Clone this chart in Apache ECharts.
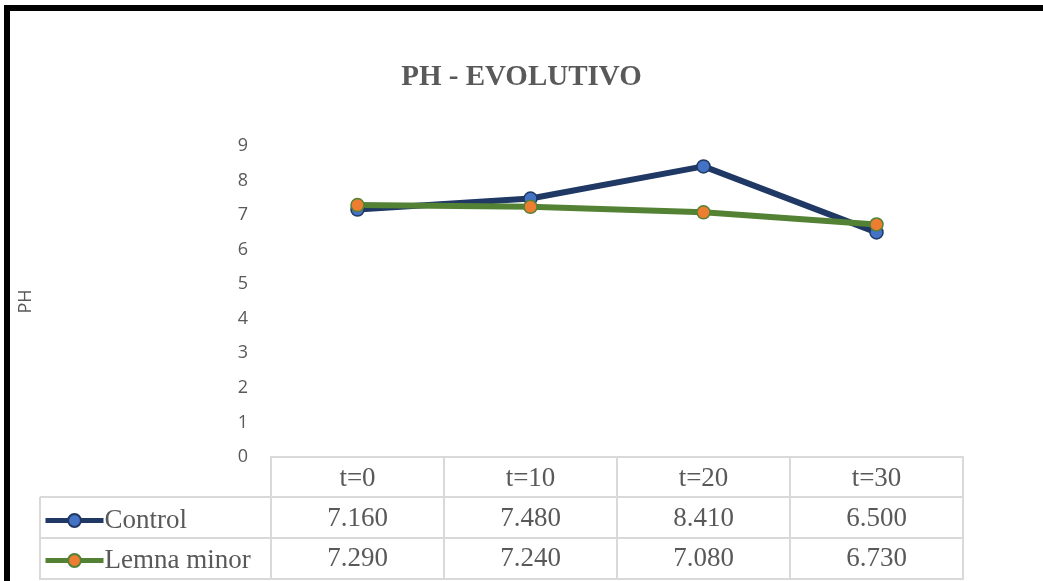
<!DOCTYPE html>
<html>
<head>
<meta charset="utf-8">
<script src="https://cdn.jsdelivr.net/npm/echarts@6/dist/echarts.min.js"></script>
<style>
html,body{margin:0;padding:0;background:#fff;}
#chart{width:1043px;height:581px;}
</style>
</head>
<body>
<div id="chart"></div>
<script>
const categories = ['t=0', 't=10', 't=20', 't=30'];
const controlValues = [7.16, 7.48, 8.41, 6.5];
const lemnaValues = [7.29, 7.24, 7.08, 6.73];
const seriesNames = ['Control', 'Lemna minor'];
const yTicks = [0, 1, 2, 3, 4, 5, 6, 7, 8, 9];

const serif = '"Liberation Serif", "Times New Roman", serif';
const sans = '"Open Sans", "Liberation Sans", sans-serif';
const txt = '#595959';
const gridLine = '#d9d9d9';

const chart = echarts.init(document.getElementById('chart'));

const tableLabel = {
  show: true, color: txt, fontFamily: serif, fontSize: 27,
  verticalAlign: 'middle', margin: 22
};

chart.setOption({
  animation: false,
  backgroundColor: '#fff',
  title: {
    text: 'PH - EVOLUTIVO', left: 'center', top: 58,
    textStyle: { fontFamily: serif, fontWeight: 'bold', fontSize: 29, color: txt }
  },
  grid: { left: 271, right: 80, top: 146, bottom: 124, containLabel: false },
  legend: {
    orient: 'vertical', left: 38, top: 502, itemGap: 13,
    itemWidth: 58, itemHeight: 16,
    data: seriesNames,
    lineStyle: { width: 5 },
    textStyle: { fontFamily: serif, fontSize: 27, color: txt, lineHeight: 27, padding: [0, 0, 0, -4] },
    selectedMode: false
  },
  xAxis: [
    {
      type: 'category', data: categories, boundaryGap: true,
      axisLine: { show: true, lineStyle: { color: gridLine, width: 2 } },
      axisTick: { show: true, length: 122, lineStyle: { color: gridLine, width: 2 } },
      axisLabel: tableLabel,
      splitLine: { show: false }
    },
    {
      type: 'category', data: controlValues.map(v => v.toFixed(3)), position: 'bottom', offset: 40,
      axisLine: { show: false }, axisTick: { show: false }, axisLabel: tableLabel, gridIndex: 0
    },
    {
      type: 'category', data: lemnaValues.map(v => v.toFixed(3)), position: 'bottom', offset: 80,
      axisLine: { show: false }, axisTick: { show: false }, axisLabel: tableLabel, gridIndex: 0
    }
  ],
  yAxis: {
    type: 'value', min: yTicks[0], max: yTicks[yTicks.length - 1], interval: 1,
    name: 'PH', nameLocation: 'middle', nameGap: 236, nameRotate: 90,
    nameTextStyle: { fontFamily: sans, fontSize: 18, color: txt },
    axisLine: { show: false }, axisTick: { show: false },
    splitLine: { show: false },
    axisLabel: { color: txt, fontFamily: sans, fontSize: 18, margin: 23 }
  },
  series: [
    {
      name: seriesNames[0], type: 'line', data: controlValues, xAxisIndex: 0,
      symbol: 'circle', symbolSize: 13,
      lineStyle: { color: '#1f3864', width: 6 },
      itemStyle: { color: '#4472c4', borderColor: '#1f3864', borderWidth: 1.5 }
    },
    {
      name: seriesNames[1], type: 'line', data: lemnaValues, xAxisIndex: 0,
      symbol: 'circle', symbolSize: 13,
      lineStyle: { color: '#548235', width: 6 },
      itemStyle: { color: '#ed7d31', borderColor: '#548235', borderWidth: 1.5 }
    }
  ],
  graphic: [
    { type: 'rect', shape: { x: 7, y: 8, width: 1100, height: 1000 }, style: { fill: null, stroke: '#000', lineWidth: 6 }, silent: true },
    { type: 'line', shape: { x1: 40, y1: 497, x2: 964, y2: 497 }, style: { stroke: gridLine, lineWidth: 2 } },
    { type: 'line', shape: { x1: 40, y1: 538, x2: 964, y2: 538 }, style: { stroke: gridLine, lineWidth: 2 } },
    { type: 'line', shape: { x1: 40, y1: 579, x2: 964, y2: 579 }, style: { stroke: gridLine, lineWidth: 2 } },
    { type: 'line', shape: { x1: 40, y1: 497, x2: 40, y2: 580 }, style: { stroke: gridLine, lineWidth: 2 } }
  ]
});
</script>
</body>
</html>
